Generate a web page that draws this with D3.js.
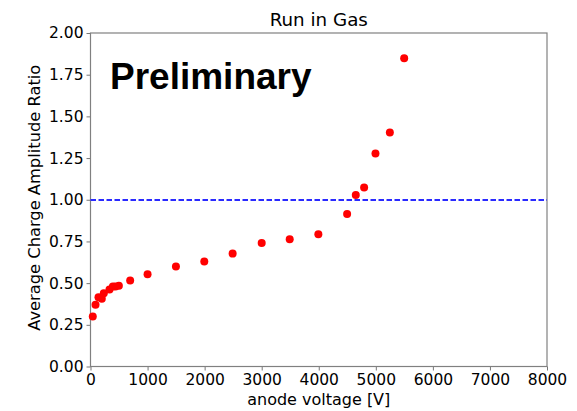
<!DOCTYPE html>
<html><head><meta charset="utf-8">
<script src="https://cdn.jsdelivr.net/npm/d3@7"></script>
<style>body{margin:0;background:#fff}</style>
</head><body>
<script>
const voltage = [40, 88, 140, 198, 233, 333, 392, 438, 497, 695, 1000, 1497, 1994, 2491, 3000, 3491, 3993, 4497, 4649, 4795, 4994, 5246, 5497];
const ratio = [0.30, 0.37, 0.416, 0.406, 0.44, 0.462, 0.48, 0.48, 0.485, 0.515, 0.553, 0.599, 0.63, 0.677, 0.74, 0.763, 0.793, 0.915, 1.029, 1.073, 1.277, 1.403, 1.848];
const xTicks = [0,1000,2000,3000,4000,5000,6000,7000,8000];
const yTicks = [0,0.25,0.5,0.75,1.0,1.25,1.5,1.75,2.0];
const refLine = 1.0;
const title = "Run in Gas", xLabel = "anode voltage [V]", yLabel = "Average Charge Amplitude Ratio", stamp = "Preliminary";

const W=577,H=411, m={l:90.5,r:30,t:33,b:44.5};
const svg=d3.select("body").append("svg").attr("width",W).attr("height",H);
const x=d3.scaleLinear().domain([0,8000]).range([m.l,W-m.r]);
const y=d3.scaleLinear().domain([0,2]).range([H-m.b,m.t]);
const font="DejaVu Sans";

const xa=svg.append("g").attr("transform",`translate(0,${H-m.b})`).call(d3.axisBottom(x).tickValues(xTicks).tickFormat(d3.format("d")).tickSizeOuter(0).tickSize(4).tickPadding(3));
const ya=svg.append("g").attr("transform",`translate(${m.l},0)`).call(d3.axisLeft(y).tickValues(yTicks).tickFormat(d3.format(".2f")).tickSizeOuter(0).tickSize(4).tickPadding(3));
[xa,ya].forEach(a=>{a.selectAll("text").attr("font-family",font).attr("font-size",15.5).attr("fill","#000");a.selectAll("line").attr("stroke","#777");a.select(".domain").remove();});

svg.append("rect").attr("x",m.l).attr("y",m.t).attr("width",W-m.r-m.l).attr("height",H-m.b-m.t).attr("fill","none").attr("stroke","#808080").attr("stroke-width",1.2);

const yRef = Math.round(y(refLine));
svg.append("line").attr("x1",x(0)).attr("x2",x(8000)).attr("y1",yRef).attr("y2",yRef).attr("stroke","#2a2aff").attr("stroke-width",2).attr("stroke-dasharray","5.5,2.5");

svg.append("g").selectAll("circle").data(voltage).join("circle").attr("cx",d=>x(d)).attr("cy",(d,i)=>y(ratio[i])).attr("r",4).attr("fill","#ff0000");

svg.append("text").attr("x",(m.l+W-m.r)/2).attr("y",26).attr("text-anchor","middle").attr("font-family",font).attr("font-size",18.3).text(title);
svg.append("text").attr("x",(m.l+W-m.r)/2).attr("y",405).attr("text-anchor","middle").attr("font-family",font).attr("font-size",16).text(xLabel);
svg.append("text").attr("transform",`translate(40,${(m.t+H-m.b)/2-2}) rotate(-90)`).attr("text-anchor","middle").attr("font-family",font).attr("font-size",16.3).text(yLabel);
svg.append("text").attr("x",110).attr("y",89).attr("font-family","Liberation Sans").attr("font-weight","bold").attr("font-size",37).text(stamp);
</script>
</body></html>
